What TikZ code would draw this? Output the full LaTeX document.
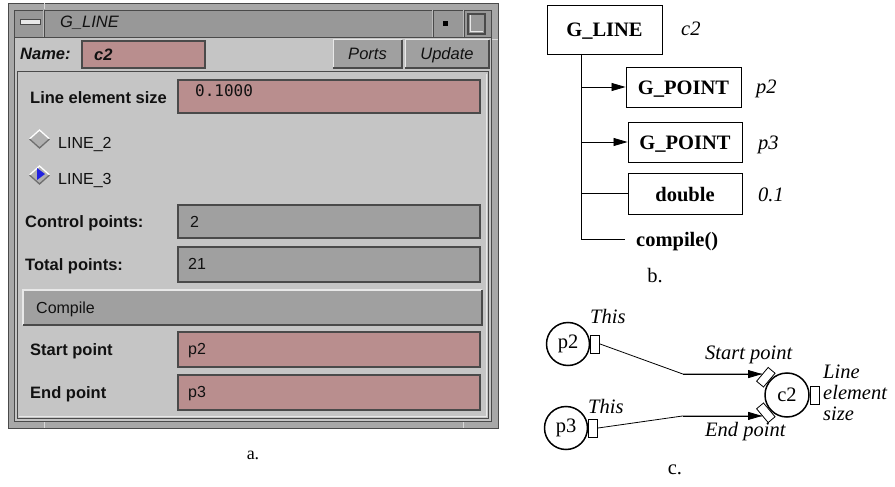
\documentclass[tikz,border=0pt]{standalone}
\usepackage{fontspec}
\setmainfont{Liberation Serif}
\newfontfamily\guifont{Liberation Sans}
\newfontfamily\guimono{DejaVu Sans Mono}
\usetikzlibrary{arrows.meta}
\definecolor{framegrey}{HTML}{A8A8A8}
\definecolor{titlegrey}{HTML}{989898}
\definecolor{winbg}{HTML}{C5C5C5}
\definecolor{fieldpink}{HTML}{B98E8E}
\definecolor{fieldgrey}{HTML}{A0A0A0}
\definecolor{edgedark}{HTML}{4A4A4A}
\definecolor{edgelight}{HTML}{E8E8E8}
\definecolor{guitext}{HTML}{111111}
\definecolor{radioblue}{HTML}{2020E0}
\definecolor{radiofill}{HTML}{B0B0B0}
\begin{document}
\begin{tikzpicture}[x=1pt,y=-1pt,
  guilab/.style={anchor=base west, inner sep=0, text=guitext, font=\guifont\fontsize{16.5}{19}\selectfont\bfseries},
  guitxt/.style={anchor=base west, inner sep=0, text=guitext, font=\guifont\fontsize{16}{19}\selectfont},
  guiital/.style={anchor=base, inner sep=0, text=guitext, font=\guifont\fontsize{16.5}{19}\selectfont\itshape},
  pinkfield/.style={fill=fieldpink, draw=edgedark, line width=1.3pt},
  greyfield/.style={fill=fieldgrey, draw=edgedark, line width=1.3pt},
  tbox/.style={draw, line width=0.9pt, inner sep=0, text height=15pt, text depth=0pt, font=\fontsize{20.5}{24}\selectfont\bfseries},
  ilbl/.style={anchor=base west, inner sep=0, font=\fontsize{20.5}{24}\selectfont\itshape},
  rlbl/.style={inner sep=0, font=\fontsize{20.5}{24}\selectfont},
  tarrow/.style={-{Triangle[length=14pt,width=8pt]}, line width=0.8pt},
  pnode/.style={circle, draw, line width=1.5pt, minimum size=43pt, inner sep=0, font=\fontsize{20.5}{24}\selectfont},
  port/.style={rectangle, draw, line width=0.8pt, fill=white, minimum width=9pt, minimum height=18pt, inner sep=0},
  conn/.style={line width=0.8pt}]
\useasboundingbox (0,0) rectangle (895,487);
\fill[white] (0,0) rectangle (895,487);

% ---------------- a. window ----------------
\fill[framegrey] (8,3) rectangle (498,428);
\draw[edgedark, line width=0.8pt] (8,3) rectangle (498,428);
\draw[white!85!black, line width=1pt] (44,3) -- (44,9) (44,422) -- (44,428) (463,422) -- (463,428) (492,40) -- (498,40);
% title bar
\fill[titlegrey] (14,10) rectangle (491,37);
\draw[edgedark, line width=0.8pt] (14,10) rectangle (491,37);
\draw[edgelight!80!black, line width=1pt] (43,10) -- (43,37) (432,10) -- (432,37) (463,10) -- (463,37);
\draw[edgedark, line width=0.6pt] (44,10) -- (44,37) (433,10) -- (433,37) (464,10) -- (464,37);
\fill[edgelight] (20,20) rectangle (40,25);
\draw[edgedark, line width=1pt] (20,20) rectangle (40,25);
\fill[black] (443,21) rectangle (448,26);
\draw[edgedark, line width=1.4pt] (468,14) rectangle (485,34);
\draw[edgelight, line width=0.8pt] (470,15) -- (470,31) -- (483,31);
\node[guiital, anchor=base west] (title) at (60,28) {G\_LINE};
% content
\fill[winbg] (14,37) rectangle (491,421);
\draw[edgedark, line width=0.8pt] (14,37) rectangle (491,421);
\node[anchor=base west, inner sep=0, text=guitext, font=\guifont\fontsize{16.5}{19}\selectfont\bfseries\itshape] (namelab) at (20,60) {Name:};
\draw[pinkfield] (82,41) rectangle (205,68);
\node[anchor=base west, inner sep=0, text=guitext, font=\guifont\fontsize{16.5}{19}\selectfont\bfseries\itshape] (nameval) at (94,61) {c2};
% Ports / Update buttons
\foreach \xa/\xb in {333/402,405/489}{
  \fill[fieldgrey] (\xa,40) rectangle (\xb,68);
  \draw[edgelight, line width=1pt] (\xa,68) -- (\xa,40) -- (\xb,40);
  \draw[edgedark, line width=1.4pt] (\xa,68) -- (\xb,68) -- (\xb,40);
}
\node[guiital] (ports) at (367.5,60) {Ports};
\node[guiital] (update) at (447,60) {Update};
% inner panel
\draw[edgedark, line width=1pt] (17,72) rectangle (488,418);
\draw[edgelight, line width=0.8pt] (19,416) -- (486,416) -- (486,74);
% Line element size
\node[guilab] (les) at (30,103) {Line element size};
\draw[pinkfield] (178,80) rectangle (480,113);
\node[anchor=base west, inner sep=0, text=guitext, font=\guimono\fontsize{16}{19}\selectfont] (lesval) at (195,97) {0.1000};
% radio buttons
\foreach \yy in {139,175}{
  \fill[radiofill] (39.5,\yy-9) -- (49.5,\yy) -- (39.5,\yy+9) -- (29.5,\yy) -- cycle;
  \draw[white, line width=1.3pt] (29.5,\yy) -- (39.5,\yy-9) -- (49.5,\yy);
  \draw[edgedark!80!white, line width=1.3pt] (29.5,\yy) -- (39.5,\yy+9) -- (49.5,\yy);
}
\fill[radioblue] (37,168) -- (45,174) -- (37,180) -- cycle;
\node[guitxt] (line2) at (58,148) {LINE\_2};
\node[guitxt] (line3) at (58,184) {LINE\_3};
% Control points
\node[guilab] (cp) at (25,227) {Control points:};
\draw[greyfield] (178,205) rectangle (480,238);
\node[guitxt] (cpval) at (190,227) {2};
% Total points
\node[guilab] (tp) at (25,270) {Total points:};
\draw[greyfield] (178,247) rectangle (480,282);
\node[guitxt] (tpval) at (188,269) {21};
% Compile button
\fill[fieldgrey] (23,290) rectangle (482,325);
\draw[edgelight, line width=1.2pt] (23,325) -- (23,290) -- (482,290);
\draw[edgedark, line width=1.8pt] (23,325) -- (482,325) -- (482,290);
\node[guitxt] (compb) at (36,313) {Compile};
% Start / End point
\node[guilab] (sp) at (30,355) {Start point};
\draw[pinkfield] (178,332) rectangle (480,367);
\node[guitxt] (spval) at (188,354) {p2};
\node[guilab] (ep) at (30,398) {End point};
\draw[pinkfield] (178,375) rectangle (480,410);
\node[guitxt] (epval) at (188,397) {p3};
\node[rlbl, font=\fontsize{18}{20}\selectfont] (capa) at (253,455) {a.};

% ---------------- b. tree ----------------
\node[tbox, minimum width=115pt, minimum height=49pt] (gline) at (604.5,29.5) {G\_LINE};
\node[ilbl] (gll) at (681,36) {c2};
\node[tbox, minimum width=115pt, minimum height=40pt] (gp1) at (683.5,87) {G\_POINT};
\node[ilbl] (gp1l) at (756,94) {p2};
\node[tbox, minimum width=114pt, minimum height=40pt] (gp2) at (685,142) {G\_POINT};
\node[ilbl] (gp2l) at (758,149) {p3};
\node[tbox, minimum width=114pt, minimum height=41pt] (dbl) at (685,193.5) {double};
\node[ilbl] (dbll) at (758,201) {0.1};
\node[anchor=base west, inner sep=0, font=\fontsize{20.5}{24}\selectfont\bfseries] (comp) at (636,246) {compile()};
\coordinate (trunk) at (581,54);
\coordinate (tend) at (581,239);
\coordinate (cend) at (625,239);
\draw[conn] (trunk) -- (tend) -- (cend);
\draw[tarrow] (trunk |- gp1.west) -- (gp1.west);
\draw[tarrow] (trunk |- gp2.west) -- (gp2.west);
\draw[conn] (trunk |- dbl.west) -- (dbl.west);
\node[rlbl] (capb) at (655,276) {b.};

% ---------------- c. graph ----------------
\node[pnode] (p2) at (568,344) {p2};
\node[pnode] (p3) at (566,428) {p3};
\node[pnode, minimum size=44pt] (c2) at (787,395) {c2};
\node[port, anchor=west] (pp2) at (p2.east) {};
\node[port, anchor=west] (pp3) at (p3.east) {};
\node[port, anchor=west] (cout) at (c2.east) {};
\node[port, anchor=west, rotate=140] (cin1) at (c2.140) {};
\node[port, anchor=west, rotate=220] (cin2) at (c2.220) {};
\coordinate (bend) at (683,0);
\draw[conn] (pp2.east) -- (bend |- cin1.east) -- (cin1.east);
\draw[tarrow] (bend |- cin1.east) -- (cin1.east);
\draw[conn] (pp3.east) -- (bend |- cin2.east) -- (cin2.east);
\draw[tarrow] (bend |- cin2.east) -- (cin2.east);
\node[ilbl] (this1) at (590,323) {This};
\node[ilbl] (this2) at (588,413) {This};
\node[ilbl] (startl) at (705,359) {Start point};
\node[ilbl] (endl) at (705,436) {End point};
\node[anchor=west, inner sep=0, align=left, font=\fontsize{20.5}{21}\selectfont\itshape] (lesl) at (823,393) {Line\\element\\size};
\node[rlbl] (capc) at (675,470) {c.};
\end{tikzpicture}
\end{document}
